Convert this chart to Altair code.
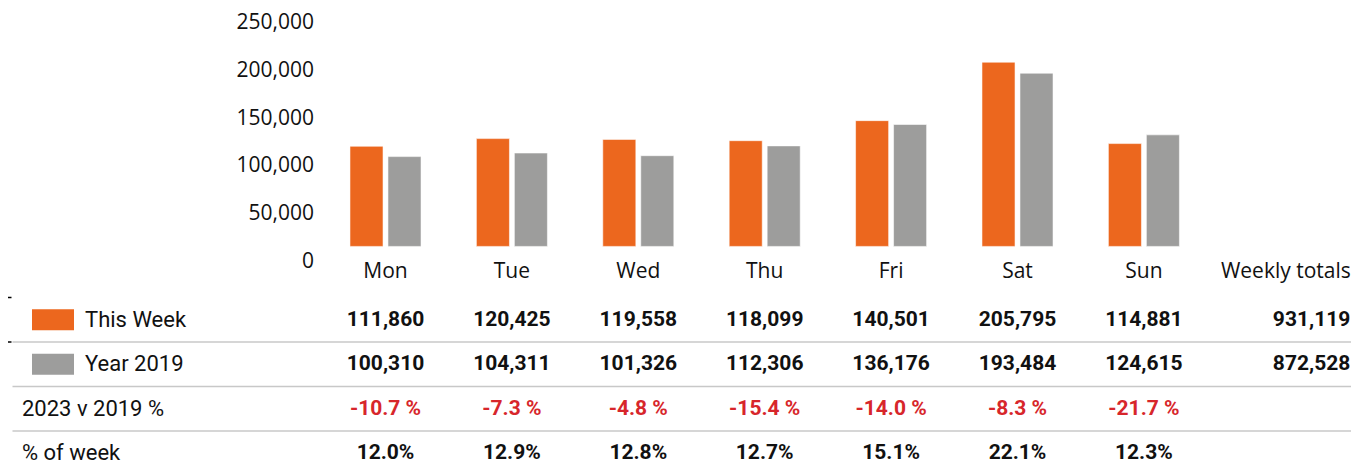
import altair as alt
import pandas as pd

# ---- data ----
days = ["Mon", "Tue", "Wed", "Thu", "Fri", "Sat", "Sun"]
columns = days + ["Weekly totals"]
series = ["This Week", "Year 2019"]
this_week = [111860, 120425, 119558, 118099, 140501, 205795, 114881]
year_2019 = [100310, 104311, 101326, 112306, 136176, 193484, 124615]
diff_pct = [-10.7, -7.3, -4.8, -15.4, -14.0, -8.3, -21.7]
share_pct = [12.0, 12.9, 12.8, 12.7, 15.1, 22.1, 12.3]
weekly_totals = [931119, 872528]
y_ticks = [0, 50000, 100000, 150000, 200000, 250000]
rows = ["days", "This Week", "Year 2019", "2023 v 2019 %", "% of week"]

ORANGE = "#EC671E"
GRAY = "#9D9D9C"
RED = "#D7262B"
INK = "#111111"

# ---- tables built from the arrays ----
bars_df = pd.DataFrame({
    "day": days * 2,
    "series": ["This Week"] * 7 + ["Year 2019"] * 7,
    "value": this_week + year_2019,
})
ticks_df = pd.DataFrame({"v": y_ticks, "label": [f"{v:,}" for v in y_ticks]})
head_days_df = pd.DataFrame({"col": days, "row": "days"})
head_tot_df = pd.DataFrame({"col": ["Weekly totals"], "row": "days"})

cells = []
for d, v in zip(days, this_week):
    cells.append((d, "This Week", f"{v:,}", INK))
for d, v in zip(days, year_2019):
    cells.append((d, "Year 2019", f"{v:,}", INK))
for d, v in zip(days, diff_pct):
    cells.append((d, "2023 v 2019 %", f"{v:.1f} %", RED))
for d, v in zip(days, share_pct):
    cells.append((d, "% of week", f"{v:.1f}%", INK))
cells_df = pd.DataFrame(cells, columns=["col", "row", "text", "color"])
totals_df = pd.DataFrame({"col": "Weekly totals", "row": series,
                          "text": [f"{v:,}" for v in weekly_totals]})
legend_df = pd.DataFrame({"row": series})
other_labels_df = pd.DataFrame({"row": ["2023 v 2019 %", "% of week"]})
lines_df = pd.DataFrame({"row": ["This Week", "Year 2019", "2023 v 2019 %"]})
dash_df = pd.DataFrame({"row": ["days", "This Week"]})

# ---- scales ----
x_scale = alt.Scale(domain=columns, range=[314.3, 1325.5],
                    paddingInner=0.438, paddingOuter=0.219)
y_bar = alt.Scale(domain=[0, 250000], range=[238.4, 14.65], nice=False)
y_lab = alt.Scale(domain=[0, 250000], range=[254, 15], nice=False)
row_scale = alt.Scale(domain=rows, range=[245, 467.5], paddingInner=0, paddingOuter=0)


def X(field):
    return alt.X(field, type="nominal", scale=x_scale, axis=None)


def ROW(**kw):
    return alt.Y("row:N", scale=row_scale, axis=None, **kw)


bars = alt.Chart(bars_df).mark_bar(stroke="white", strokeWidth=1, strokeOpacity=0.55).encode(
    x=X("day"),
    xOffset=alt.XOffset("series:N", scale=alt.Scale(domain=series, paddingInner=0.13, paddingOuter=0)),
    y=alt.Y("value:Q", scale=y_bar, axis=None),
    color=alt.Color("series:N", scale=alt.Scale(domain=series, range=[ORANGE, GRAY]), legend=None),
)

y_labels = alt.Chart(ticks_df).mark_text(
    align="right", baseline="middle", font="Open Sans", fontSize=21, color=INK
).encode(
    x=alt.value(306),
    y=alt.Y("v:Q", scale=y_lab, axis=None),
    text="label:N",
)

head_days = alt.Chart(head_days_df).mark_text(
    align="center", baseline="middle", font="Open Sans", fontSize=21, color=INK, dy=-3
).encode(x=X("col"), y=ROW(), text="col:N")

head_tot = alt.Chart(head_tot_df).mark_text(
    align="right", baseline="middle", font="Open Sans", fontSize=21, color=INK, dy=-3, dx=80.5
).encode(x=X("col"), y=ROW(), text="col:N")

cell_text = alt.Chart(cells_df).mark_text(
    align="center", baseline="middle", font="Roboto", fontSize=21, fontWeight="bold"
).encode(x=X("col"), y=ROW(), text="text:N", color=alt.Color("color:N", scale=None))

totals_text = alt.Chart(totals_df).mark_text(
    align="right", baseline="middle", font="Roboto", fontSize=21, fontWeight="bold", color=INK, dx=80
).encode(x=X("col"), y=ROW(), text="text:N")

legend_sw = alt.Chart(legend_df).mark_bar(height=21).encode(
    x=alt.value(24), x2=alt.value(66), y=ROW(),
    color=alt.Color("row:N", scale=alt.Scale(domain=series, range=[ORANGE, GRAY]), legend=None),
)

legend_lab = alt.Chart(legend_df).mark_text(
    align="left", baseline="middle", font="Roboto", fontSize=22, color=INK
).encode(x=alt.value(77), y=ROW(), text="row:N")

other_lab = alt.Chart(other_labels_df).mark_text(
    align="left", baseline="middle", font="Roboto", fontSize=22, color=INK
).encode(x=alt.value(14), y=ROW(), text="row:N")

lines = alt.Chart(lines_df).mark_rule(color="#C8C8C8", strokeWidth=1.6).encode(
    x=alt.value(4.5), x2=alt.value(1349), y=ROW(bandPosition=1)
)

dashes = alt.Chart(dash_df).mark_rule(color="#000000", strokeWidth=1.5).encode(
    x=alt.value(0), x2=alt.value(3.5), y=ROW(bandPosition=1)
)

chart = alt.layer(
    bars, y_labels, lines, dashes, legend_sw, head_days, head_tot,
    cell_text, totals_text, legend_lab, other_lab
).resolve_scale(
    y="independent", color="independent"
).properties(
    width=1343, height=460, padding=0, autosize="none"
).configure_view(strokeWidth=0)

chart.save("out.html", embed_options={"renderer": "svg", "actions": False})
